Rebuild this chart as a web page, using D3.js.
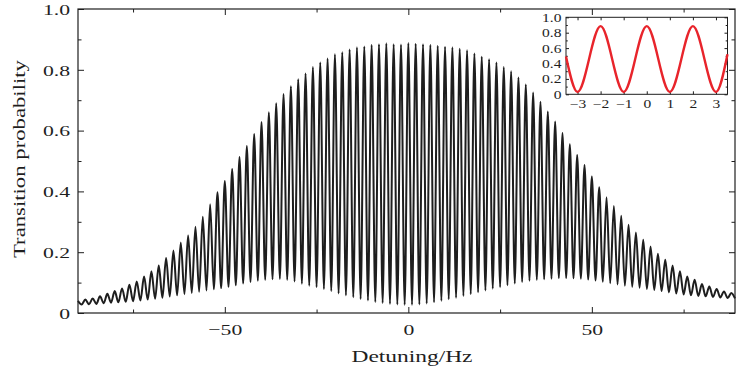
<!DOCTYPE html>
<html>
<head>
<meta charset="utf-8">
<script src="https://cdn.jsdelivr.net/npm/d3@7"></script>
<style>
  body { margin: 0; background: #fff; }
  svg { display: block; }
</style>
</head>
<body>
<div id="chart"></div>
<script>
// Fringe maxima sit on even detunings, minima on odd ones (period 2 Hz)
const peakX = d3.range(-90, 89, 2);
const peakP = [
  0.040, 0.044, 0.048, 0.055, 0.063, 0.072, 0.081, 0.093, 0.104, 0.120,
  0.137, 0.156, 0.181, 0.206, 0.232, 0.255, 0.284, 0.317, 0.358, 0.397,
  0.434, 0.474, 0.513, 0.549, 0.589, 0.628, 0.660, 0.690, 0.720, 0.746,
  0.769, 0.788, 0.809, 0.824, 0.837, 0.851, 0.858, 0.867, 0.874, 0.877,
  0.882, 0.884, 0.887, 0.884, 0.883, 0.888, 0.886, 0.884, 0.882, 0.879,
  0.876, 0.874, 0.869, 0.864, 0.854, 0.843, 0.835, 0.824, 0.809, 0.795,
  0.775, 0.752, 0.725, 0.695, 0.663, 0.630, 0.592, 0.555, 0.520, 0.487,
  0.449, 0.414, 0.381, 0.352, 0.320, 0.290, 0.265, 0.241, 0.219, 0.195,
  0.175, 0.156, 0.137, 0.120, 0.109, 0.095, 0.087, 0.079, 0.071, 0.066
];
const troughX = d3.range(-89, 90, 2);
const troughP = [
  0.028, 0.029, 0.030, 0.032, 0.034, 0.035, 0.037, 0.039, 0.041, 0.044,
  0.047, 0.050, 0.054, 0.058, 0.062, 0.066, 0.070, 0.074, 0.078, 0.082,
  0.086, 0.091, 0.097, 0.102, 0.106, 0.109, 0.111, 0.112, 0.109, 0.104,
  0.096, 0.090, 0.085, 0.079, 0.072, 0.064, 0.058, 0.052, 0.046, 0.041,
  0.036, 0.033, 0.030, 0.028, 0.027, 0.027, 0.028, 0.031, 0.035, 0.040,
  0.045, 0.050, 0.056, 0.062, 0.068, 0.074, 0.080, 0.085, 0.091, 0.097,
  0.102, 0.106, 0.109, 0.111, 0.113, 0.115, 0.115, 0.114, 0.113, 0.110,
  0.107, 0.103, 0.098, 0.094, 0.090, 0.086, 0.083, 0.079, 0.076, 0.072,
  0.068, 0.064, 0.061, 0.058, 0.056, 0.055, 0.053, 0.051, 0.049, 0.048
];

// Inset: central fringes
const insetX = [-3.5, -3, -2, -1, 0, 1, 2, 3, 3.5];
const insetP = [0.49, 0.03, 0.885, 0.03, 0.885, 0.03, 0.885, 0.03, 0.52];

const xTicksMajor = [-50, 0, 50];
const xTicksMinor = [-75, -25, 25, 75];
const yTicksMajor = [0, 0.2, 0.4, 0.6, 0.8, 1.0];
const yTicksMinor = [0.1, 0.3, 0.5, 0.7, 0.9];
const insetXTicks = [-3, -2, -1, 0, 1, 2, 3];
const insetYTicks = [0, 0.2, 0.4, 0.6, 0.8, 1.0];

const width = 736, height = 370;
const FONT = "'Liberation Serif', 'Times New Roman', serif";
const INK = "#1e1e1e";
const yFmt = d => d === 0 ? "0" : d.toFixed(1);

const svg = d3.select("#chart").append("svg")
  .attr("width", width)
  .attr("height", height);

// thin tick rows on one side of a frame, pointing inwards
function tickRow(g, axisFn, scale, values, size, shift) {
  const a = g.append("g")
    .attr("transform", shift)
    .call(axisFn(scale).tickValues(values).tickSize(-size).tickSizeOuter(0).tickFormat(""));
  a.select(".domain").remove();
  a.selectAll("line").attr("stroke", INK);
  return a;
}

function drawFrame(g, xs, ys, o) {
  const [xl, xr] = xs.range();
  const [yb, yt] = ys.range();

  g.append("rect")
    .attr("x", xl).attr("y", yt)
    .attr("width", xr - xl).attr("height", yb - yt)
    .attr("fill", o.fill || "none")
    .attr("stroke", INK)
    .attr("stroke-width", o.frameWidth);

  tickRow(g, d3.axisBottom, xs, o.xMajor, o.major, `translate(0,${yb})`);
  tickRow(g, d3.axisTop, xs, o.xMajor, o.major, `translate(0,${yt})`);
  tickRow(g, d3.axisLeft, ys, o.yMajor, o.major, `translate(${xl},0)`);
  tickRow(g, d3.axisRight, ys, o.yMajor, o.major, `translate(${xr},0)`);
  if (o.xMinor) {
    tickRow(g, d3.axisBottom, xs, o.xMinor, o.minor, `translate(0,${yb})`);
    tickRow(g, d3.axisTop, xs, o.xMinor, o.minor, `translate(0,${yt})`);
  }
  if (o.yMinor) {
    tickRow(g, d3.axisLeft, ys, o.yMinor, o.minor, `translate(${xl},0)`);
    tickRow(g, d3.axisRight, ys, o.yMinor, o.minor, `translate(${xr},0)`);
  }

  // labels through the axes themselves, glyphs stretched like the source figure
  const xLab = g.append("g")
    .attr("transform", `translate(0,${yb})`)
    .call(d3.axisBottom(xs).tickValues(o.xMajor).tickSize(0).tickFormat(o.xFmt));
  xLab.select(".domain").remove();
  xLab.selectAll("text")
    .attr("y", o.xLabelY).attr("dy", null)
    .attr("transform", `scale(${o.sx},1)`)
    .attr("fill", INK)
    .style("font-family", FONT).style("font-size", o.fontSize + "px");

  const yLab = g.append("g")
    .attr("transform", `translate(${xl},0)`)
    .call(d3.axisLeft(ys).tickValues(o.yMajor).tickSize(0).tickFormat(yFmt));
  yLab.select(".domain").remove();
  yLab.selectAll("text")
    .attr("x", -o.yLabelGap / o.sx).attr("dy", "0.34em")
    .attr("transform", `scale(${o.sx},1)`)
    .attr("fill", INK)
    .style("font-family", FONT).style("font-size", o.fontSize + "px");
}

// ---- main plot ----
const x = d3.scaleLinear().domain([-90, 89]).range([78, 735]);
const y = d3.scaleLinear().domain([0, 1]).range([313, 9]);

const fringe = peakX.map((v, i) => ({ x: v, p: peakP[i] }))
  .concat(troughX.map((v, i) => ({ x: v, p: troughP[i] })))
  .sort((a, b) => a.x - b.x);

const line = d3.line()
  .x(d => x(d.x))
  .y(d => y(d.p))
  .curve(d3.curveMonotoneX);

const main = svg.append("g");

main.append("path")
  .datum(fringe)
  .attr("fill", "none")
  .attr("stroke", INK)
  .attr("stroke-width", 2.0)
  .attr("stroke-linejoin", "round")
  .attr("d", line);

drawFrame(main, x, y, {
  xMajor: xTicksMajor, xMinor: xTicksMinor,
  yMajor: yTicksMajor, yMinor: yTicksMinor,
  major: 6, minor: 3.5, frameWidth: 1.2,
  xFmt: d3.format("d"),
  fontSize: 15.5, sx: 1.4,
  xLabelY: 22, yLabelGap: 8
});

main.append("text")
  .attr("x", 412).attr("y", 362)
  .attr("text-anchor", "middle")
  .attr("textLength", 121).attr("lengthAdjust", "spacingAndGlyphs")
  .attr("fill", INK)
  .style("font-family", FONT).style("font-size", "16px")
  .text("Detuning/Hz");

main.append("text")
  .attr("transform", "translate(25,159) rotate(-90)")
  .attr("text-anchor", "middle")
  .attr("textLength", 198).attr("lengthAdjust", "spacingAndGlyphs")
  .attr("fill", INK)
  .style("font-family", FONT).style("font-size", "17px")
  .text("Transition probability");

// ---- inset ----
const xi = d3.scaleLinear().domain([-3.5, 3.5]).range([566, 727.5]);
const yi = d3.scaleLinear().domain([0, 1]).range([94.3, 17.3]);

const inset = svg.append("g");

drawFrame(inset, xi, yi, {
  xMajor: insetXTicks,
  yMajor: insetYTicks, yMinor: [0.1, 0.3, 0.5, 0.7, 0.9],
  major: 3, minor: 1.8, frameWidth: 1, fill: "#fff",
  xFmt: d3.format("d"),
  fontSize: 11.5, sx: 1.35,
  xLabelY: 14, yLabelGap: 4.5
});

inset.append("path")
  .datum(insetX.map((v, i) => ({ x: v, p: insetP[i] })))
  .attr("fill", "none")
  .attr("stroke", "#e8242b")
  .attr("stroke-width", 2.4)
  .attr("d", d3.line().x(d => xi(d.x)).y(d => yi(d.p)).curve(d3.curveMonotoneX));
</script>
</body>
</html>
